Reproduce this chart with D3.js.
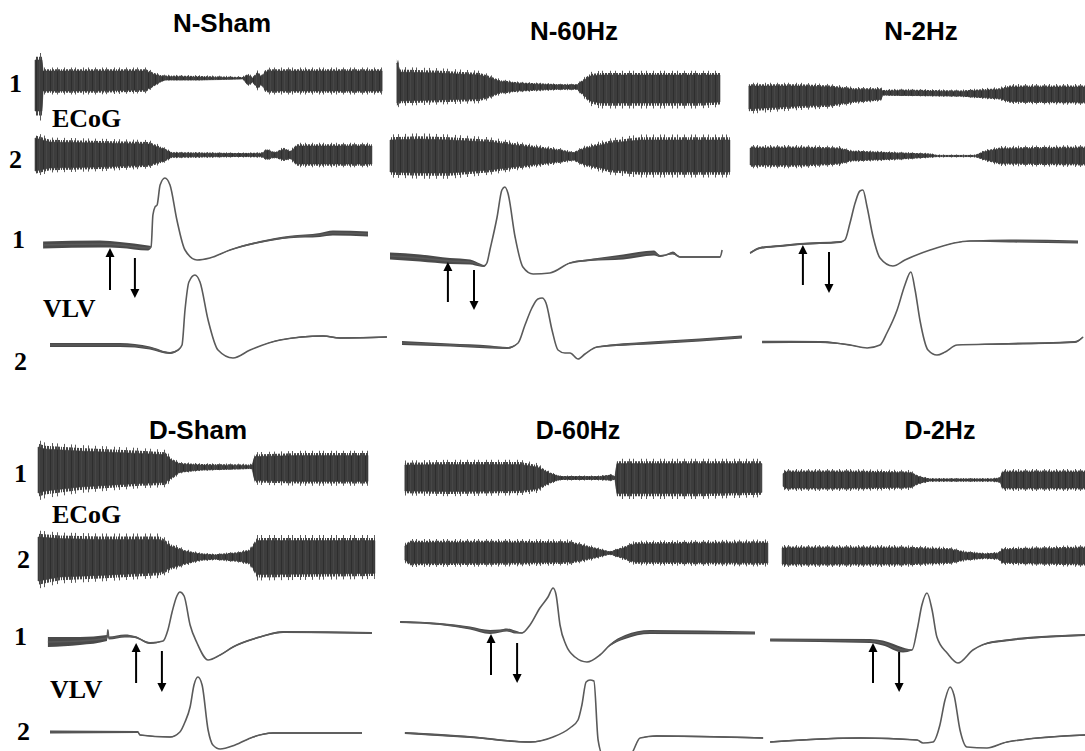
<!DOCTYPE html>
<html>
<head>
<meta charset="utf-8">
<script src="https://cdn.jsdelivr.net/npm/d3@7"></script>
<style>
  body { margin: 0; background: #fff; }
  svg { display: block; }
</style>
</head>
<body>
<svg id="fig" width="1085" height="751"></svg>
<script>
// ---------------------------------------------------------------
// Recordings: time in s (0-120 s window), ECoG envelopes as
// [t, upper amplitude, lower amplitude] (relative units),
// VLV traces as [t, potential, noise band] (relative mV units),
// arrows as [t, tail potential, head potential] on VLV channel 1.
// ---------------------------------------------------------------

const groups = ["N-Sham", "N-60Hz", "N-2Hz", "D-Sham", "D-60Hz", "D-2Hz"];
const channelLabels = ["1", "ECoG", "2", "1", "VLV", "2"];

// ---- N-Sham ----
const ecog1_NSham = [[0,1.05,1.5],[2.3,1.05,1.5],[2.7,0.5,0.5],[20,0.5,0.5],[37,0.5,0.45],[39.3,0.35,0.25],[41.7,0.25,0.05],[43.3,0.22,-0.05],[55,0.2,-0.05],[69.3,0.16,-0.1],[71,0.3,0.2],[72.5,0.15,0.05],[74.3,0.4,0.35],[75.5,0.2,0.15],[76.7,0.45,0.45],[78.3,0.5,0.5],[115.7,0.5,0.5]];
const ecog2_NSham = [[0,0.85,0.8],[5,0.65,0.65],[22,0.6,0.6],[38,0.55,0.5],[42.7,0.3,0.3],[45.7,0.1,0.1],[68,0.07,0.07],[75.7,0.08,0.08],[77,0.25,0.2],[80,0.1,0.1],[83,0.3,0.25],[85,0.15,0.15],[87.3,0.45,0.45],[112.3,0.45,0.45]];
const vlv1_NSham = [[2.7,0,0.14],[21.7,0.02,0.14],[28.3,0,0.12],[37.7,-0.06,0.1],[38.7,-0.04,0.04],[39.3,0.6,0],[40,0.76,0],[40.7,0.8,0],[41.7,1.2,0],[43.3,1.34,0],[45,1.2,0],[47.3,0.5,0],[50,-0.1,0],[54,-0.3,0],[58.3,-0.26,0],[65,-0.1,0.02],[75,0.06,0.04],[85,0.16,0.05],[95,0.2,0.08],[99.3,0.24,0.1],[111,0.22,0.1]];
const vlv2_NSham = [[5,0,0.08],[28.3,0,0.08],[38.3,-0.06,0.06],[45,-0.16,0.04],[47.7,-0.1,0.02],[49,0,0],[50,0.7,0],[51.3,1.26,0],[53.3,1.4,0],[55,1.26,0],[57.7,0.5,0],[61,-0.1,0],[66,-0.26,0],[71.7,-0.1,0],[81.7,0.1,0.02],[96,0.18,0.03],[101.7,0.14,0.03],[117.3,0.16,0.03]];
const arrows_NSham = [[25,-0.9,-0.06],[33.3,-0.26,-1.06]];

// ---- N-60Hz ----
const ecog1_N60 = [[2.3,1.2,0.8],[3.3,0.75,0.7],[16.7,0.7,0.65],[30,0.6,0.6],[33.3,0.45,0.45],[36.7,0.28,0.28],[43.3,0.18,0.18],[56.7,0.1,0.1],[62.3,0.1,0.1],[64.3,0.3,0.35],[66.7,0.55,0.7],[70,0.6,0.8],[103.3,0.6,0.8],[110,0.6,0.75]];
const ecog2_N60 = [[0,0.8,0.8],[10,0.85,0.85],[20,0.8,0.85],[33.3,0.7,0.7],[46.7,0.45,0.45],[56.7,0.28,0.28],[61,0.15,0.18],[65,0.38,0.42],[73.3,0.65,0.7],[83.3,0.8,0.8],[113.3,0.8,0.8]];
const vlv1_N60 = [[0,0.04,0.14],[10,0,0.14],[20,-0.06,0.12],[26.7,-0.08,0.1],[30,-0.14,0.06],[31.3,-0.16,0.04],[32.3,-0.1,0],[33.3,0.16,0],[35.7,0.82,0],[37.3,1.36,0],[38.3,1.42,0],[39.3,1.3,0],[41.7,0.42,0],[44.3,-0.18,0],[47.7,-0.32,0],[53.3,-0.3,0],[60,-0.1,0.02],[66.7,-0.04,0.04],[77.7,0.02,0.1],[88,0.1,0.1],[90,0.04,0.04],[92,0.06,0.02],[94.3,0.1,0.06],[96.7,0.02,0.03],[110,0.02,0.03],[110.7,0.16,0]];
const vlv2_N60 = [[4,0,0.08],[20,-0.04,0.06],[33.3,-0.08,0.06],[39,-0.1,0.04],[42.7,0,0],[45,0.36,0],[47.3,0.7,0],[49.3,0.88,0],[50.7,0.9,0],[52,0.8,0],[54,0.26,0],[56,-0.14,0],[58.3,-0.2,0],[60,-0.2,0],[62.7,-0.32,0],[65,-0.22,0],[69,-0.08,0.02],[86.7,0,0.06],[103.3,0.06,0.06],[117.3,0.12,0.06]];
const arrows_N60 = [[19.3,-0.88,-0.08],[28,-0.24,-1.04]];

// ---- N-2Hz ----
const ecog1_N2 = [[1.3,0.45,0.7],[18.3,0.45,0.55],[28.3,0.4,0.5],[36.7,0.28,0.32],[45.3,0.28,0.22],[46,0.2,0],[51.7,0.22,0.02],[71.7,0.18,0.05],[85,0.28,0.18],[88.3,0.4,0.32],[113.3,0.4,0.36]];
const ecog2_N2 = [[1.7,0.4,0.45],[18.3,0.4,0.45],[31.7,0.36,0.36],[35,0.22,0.22],[51.7,0.14,0.14],[61.7,0.09,0.05],[64,0.03,0.03],[76.7,0.03,0.03],[80,0.22,0.18],[85,0.36,0.36],[113.3,0.4,0.4]];
const vlv1_N2 = [[1.7,-0.16,0.04],[5,-0.06,0.04],[11.7,-0.02,0.04],[18.3,0.02,0.04],[31.7,0.06,0.04],[33.3,0.1,0],[35,0.44,0],[36.7,0.84,0],[38.3,1.08,0],[39.3,1.1,0],[40.7,0.76,0],[42.7,0.16,0],[45,-0.26,0],[49.3,-0.42,0],[53.3,-0.3,0],[61.7,-0.1,0],[75,0.08,0.02],[88.3,0.08,0.06],[111,0.06,0.06]];
const vlv2_N2 = [[5.7,0,0.05],[25,0,0.04],[35,-0.06,0.02],[40.7,-0.12,0],[45,-0.06,0],[47.3,0.18,0],[50.7,0.64,0],[53.3,1.14,0],[55.3,1.4,0],[56.7,1.04,0],[58.3,0.44,0],[61,-0.16,0],[64,-0.26,0],[66.7,-0.2,0],[70.7,-0.06,0],[85,-0.04,0.03],[110,0,0.04],[112.7,0.1,0.02]];
const arrows_N2 = [[19.3,-0.8,0],[28,-0.14,-0.96]];

// ---- D-Sham ----
const ecog1_DSham = [[1,1.1,1.2],[3.3,1.0,1.1],[15,0.9,0.9],[35,0.78,0.72],[43.3,0.72,0.68],[45.7,0.42,0.42],[48.3,0.25,0.15],[55,0.2,0.05],[71,0.18,-0.02],[72.3,0.18,-0.02],[73.3,0.62,0.58],[88.3,0.68,0.62],[111,0.68,0.62]];
const ecog2_DSham = [[1,1.0,1.2],[8.3,0.92,1.0],[21.7,0.88,0.92],[41.7,0.88,0.78],[45,0.55,0.55],[50,0.28,0.32],[55,0.15,0.15],[60,0.1,0.1],[68.3,0.2,0.2],[71.7,0.32,0.32],[74,0.82,0.88],[113.3,0.82,0.82]];
const vlv1_DSham = [[4.3,-0.04,0.2],[15,-0.02,0.16],[24,0.04,0.12],[24.3,0.2,0.04],[24.6,0.04,0.06],[30,0.08,0.06],[33.3,0.06,0.04],[38.3,-0.06,0.04],[42.7,-0.02,0],[44.3,0.2,0],[45.7,0.56,0],[47.3,0.88,0],[48.3,0.96,0],[49.7,0.88,0],[51.7,0.3,0],[54,-0.06,0],[57.7,-0.4,0],[61.7,-0.3,0.02],[66,-0.14,0.03],[75,0.06,0.03],[82.7,0.16,0.04],[112.3,0.14,0.04]];
const vlv2_DSham = [[5,0.02,0.06],[34.3,0.02,0.04],[35,-0.04,0.02],[45,-0.08,0.02],[48.3,0.02,0],[50,0.22,0],[51.7,0.52,0],[53,0.96,0],[54.3,1.12,0],[55.7,0.96,0],[57.7,0.06,0],[59.3,-0.24,0],[61.7,-0.32,0],[66.7,-0.24,0],[72.7,-0.08,0.02],[79.3,0,0.03],[109,0,0.03]];
const arrows_DSham = [[33.7,-0.86,-0.06],[42.3,-0.22,-1.04]];

// ---- D-60Hz ----
const ecog1_D60 = [[2.3,0.65,0.65],[17.3,0.68,0.68],[40.7,0.68,0.64],[46.3,0.55,0.55],[50.7,0.22,0.22],[54,0.07,0.07],[67.3,0.07,0.07],[71.3,0.14,0.1],[72.3,0.05,0.05],[73,0.72,0.78],[100.7,0.72,0.78],[121.3,0.72,0.72]];
const ecog2_D60 = [[2.3,0.35,0.35],[4,0.52,0.52],[34,0.52,0.5],[57.3,0.5,0.45],[64,0.28,0.28],[70.7,0.05,0.05],[75.7,0.28,0.28],[79,0.45,0.45],[123.3,0.5,0.5]];
const vlv1_D60 = [[0.7,0.16,0.04],[14,0.12,0.04],[24,0.04,0.06],[30.7,-0.04,0.08],[34,-0.02,0.06],[36.3,0,0.06],[39,-0.04,0.06],[41.3,-0.06,0.02],[44,0.1,0],[47.3,0.44,0],[50,0.66,0],[51.7,0.84,0],[52.7,0.7,0],[54,0.1,0],[56,-0.3,0],[59,-0.54,0],[63,-0.64,0],[67.3,-0.5,0],[70.7,-0.3,0.04],[75.7,-0.14,0.08],[84,-0.04,0.08],[119,-0.06,0.06]];
const vlv2_D60 = [[2.3,0.04,0.04],[24,-0.04,0.04],[44,-0.14,0.03],[51.7,-0.04,0],[57.3,0.14,0],[60,0.3,0],[61.3,0.6,0],[62.7,1.06,0],[64,1.1,0],[65.3,1.08,0],[66.7,-0.1,0],[68.3,-0.4,0],[77.3,-0.4,0],[80.7,-0.06,0],[86.3,-0.02,0.03],[121.7,-0.06,0.03]];
const arrows_D60 = [[31,-0.9,-0.08],[39.7,-0.26,-1.06]];

// ---- D-2Hz ----
const ecog1_D2 = [[6,0.32,0.32],[7,0.4,0.4],[28.3,0.4,0.4],[48.3,0.36,0.36],[51.7,0.14,0.14],[55,0.05,0.05],[76,0.05,0.05],[78.3,0.1,0.1],[79.3,0.4,0.4],[106.7,0.4,0.4]];
const ecog2_D2 = [[5.7,0.4,0.4],[45,0.4,0.4],[61.7,0.32,0.32],[66.7,0.18,0.18],[73.3,0.1,0.1],[77.7,0.14,0.14],[79.3,0.32,0.32],[106.7,0.4,0.4]];
const vlv1_D2 = [[1.7,0,0.06],[35,-0.02,0.08],[39.3,-0.06,0.1],[46,-0.2,0.1],[49,-0.2,0.02],[50.7,0.2,0],[52.3,0.7,0],[54,0.94,0],[55.7,0.6,0],[57.3,0.06,0],[60.7,-0.26,0],[64.3,-0.46,0],[69.3,-0.2,0],[76,-0.04,0.04],[106.7,0.1,0.04]];
const vlv2_D2 = [[1.7,-0.04,0.03],[31.7,0.04,0.03],[50.7,0,0.02],[52.7,-0.06,0],[56,-0.04,0],[58.3,0.3,0],[60,0.8,0],[61.7,1.06,0],[63,0.9,0],[65,0.2,0],[67.3,-0.14,0],[74,-0.16,0],[80.7,-0.04,0.02],[106.7,0.1,0.03]];
const arrows_D2 = [[36,-0.86,-0.06],[44.7,-0.24,-1.04]];

// ---------------------------------------------------------------
// Layout: panel origins, titles and baseline of each trace
// ---------------------------------------------------------------
const layout = {
  "N-Sham": { x0: 35,  title: [222, 32],  size: 26, e1: 81,  e2: 155, v1: 245, v2: 345 },
  "N-60Hz": { x0: 390, title: [574, 40],  size: 26, e1: 87,  e2: 156, v1: 258, v2: 343 },
  "N-2Hz":  { x0: 745, title: [921, 40],  size: 26, e1: 95,  e2: 156, v1: 245, v2: 342 },
  "D-Sham": { x0: 35,  title: [198, 439], size: 26, e1: 469, e2: 557, v1: 640, v2: 733 },
  "D-60Hz": { x0: 398, title: [578, 439], size: 25, e1: 478, e2: 553, v1: 630, v2: 735 },
  "D-2Hz":  { x0: 765, title: [940, 439], size: 25, e1: 480, e2: 556, v1: 640, v2: 740 }
};

// Row label positions (x, baseline) for "1, ECoG, 2, 1, VLV, 2"
const rowLabelPos = [
  [[9, 92], [52, 127], [9, 168], [12, 248], [43, 317], [14, 370]],
  [[14, 482], [52, 523], [17, 568], [14, 645], [50, 698], [17, 740]]
];

const panels = [
  { name: groups[0], ecog1: ecog1_NSham, ecog2: ecog2_NSham, vlv1: vlv1_NSham, vlv2: vlv2_NSham, arrows: arrows_NSham },
  { name: groups[1], ecog1: ecog1_N60,   ecog2: ecog2_N60,   vlv1: vlv1_N60,   vlv2: vlv2_N60,   arrows: arrows_N60 },
  { name: groups[2], ecog1: ecog1_N2,    ecog2: ecog2_N2,    vlv1: vlv1_N2,    vlv2: vlv2_N2,    arrows: arrows_N2 },
  { name: groups[3], ecog1: ecog1_DSham, ecog2: ecog2_DSham, vlv1: vlv1_DSham, vlv2: vlv2_DSham, arrows: arrows_DSham },
  { name: groups[4], ecog1: ecog1_D60,   ecog2: ecog2_D60,   vlv1: vlv1_D60,   vlv2: vlv2_D60,   arrows: arrows_D60 },
  { name: groups[5], ecog1: ecog1_D2,    ecog2: ecog2_D2,    vlv1: vlv1_D2,    vlv2: vlv2_D2,    arrows: arrows_D2 }
];

const PX_PER_S = 3;     // horizontal resolution
const ECOG_PX = 20;     // px per ECoG amplitude unit
const VLV_PX = 50;      // px per VLV unit

const svg = d3.select("#fig");
const defs = svg.append("defs");

// core texture of the compressed ECoG trace: dense vertical striation
const core = defs.append("pattern")
  .attr("id", "ecogCore").attr("patternUnits", "userSpaceOnUse")
  .attr("width", 7).attr("height", 8);
core.append("rect").attr("width", 7).attr("height", 8).attr("fill", "#3d3d3d");
core.append("rect").attr("x", 1).attr("width", 1).attr("height", 8).attr("fill", "#2e2e2e");
core.append("rect").attr("x", 4).attr("width", 1).attr("height", 8).attr("fill", "#474747");

// ragged fringe: single sweeps that overshoot the envelope
function fringePattern(id, period, xs, colour) {
  const pt = defs.append("pattern")
    .attr("id", id).attr("patternUnits", "userSpaceOnUse")
    .attr("width", period).attr("height", 8);
  xs.forEach(px => pt.append("rect").attr("x", px).attr("width", 1).attr("height", 8).attr("fill", colour));
}
fringePattern("fringeA", 11, [0, 1, 3, 4, 6, 8, 9], "#454545");
fringePattern("fringeB", 31, [2, 9, 13, 21, 26], "#5a5a5a");

const serif = "'Liberation Serif', 'Times New Roman', serif";
const sans = "'Liberation Sans', Arial, sans-serif";

panels.forEach(p => {
  const L = layout[p.name];
  const x = d3.scaleLinear().domain([0, 120]).range([L.x0, L.x0 + 120 * PX_PER_S]);
  const g = svg.append("g").attr("class", "panel");

  // title
  g.append("text")
    .attr("x", L.title[0]).attr("y", L.title[1])
    .attr("text-anchor", "middle")
    .attr("font-family", sans).attr("font-weight", "bold")
    .attr("font-size", L.size)
    .text(p.name);

  // ECoG channels (envelope of the compressed trace)
  [[p.ecog1, L.e1], [p.ecog2, L.e2]].forEach(([env, base]) => {
    const y = d3.scaleLinear().domain([-1, 1]).range([base + ECOG_PX, base - ECOG_PX]);
    const band = (k, pad) => d3.area()
      .x(d => x(d[0]))
      .y0(d => y(-(d[2] * k + pad)))
      .y1(d => y(d[1] * k + pad));
    g.append("path").datum(env).attr("d", band(1.3, 0.03)).attr("fill", "url(#fringeB)");
    g.append("path").datum(env).attr("d", band(1.14, 0.02)).attr("fill", "url(#fringeA)");
    g.append("path").datum(env).attr("d", band(1, 0))
      .attr("fill", "url(#ecogCore)")
      .attr("stroke", "#3c3c3c")
      .attr("stroke-width", 0.6);
  });

  // VLV channels
  [[p.vlv1, L.v1], [p.vlv2, L.v2]].forEach(([trace, base]) => {
    const y = d3.scaleLinear().domain([-1, 1]).range([base + VLV_PX, base - VLV_PX]);
    g.append("path")
      .datum(trace)
      .attr("d", d3.area()
        .curve(d3.curveMonotoneX)
        .x(d => x(d[0]))
        .y0(d => y(d[1] - d[2] / 2))
        .y1(d => y(d[1] + d[2] / 2)))
      .attr("fill", "#4a4a4a");
    g.append("path")
      .datum(trace)
      .attr("d", d3.line()
        .curve(d3.curveMonotoneX)
        .x(d => x(d[0]))
        .y(d => y(d[1])))
      .attr("fill", "none")
      .attr("stroke", "#5a5a5a")
      .attr("stroke-width", 1.6)
      .attr("stroke-linejoin", "round");

    if (trace === p.vlv1) {
      p.arrows.forEach(([t, tail, head]) => {
        const ax = x(t), y0 = y(tail), y1 = y(head);
        const dir = y1 < y0 ? -1 : 1;
        g.append("line")
          .attr("x1", ax).attr("x2", ax)
          .attr("y1", y0).attr("y2", y1 - dir * 7)
          .attr("stroke", "#000").attr("stroke-width", 2);
        g.append("path")
          .attr("d", `M${ax},${y1} L${ax - 4.5},${y1 - dir * 9} L${ax + 4.5},${y1 - dir * 9} Z`)
          .attr("fill", "#000");
      });
    }
  });
});

// channel labels for each row
rowLabelPos.forEach(row => {
  row.forEach((pos, i) => {
    svg.append("text")
      .attr("x", pos[0]).attr("y", pos[1])
      .attr("font-family", serif).attr("font-weight", "bold")
      .attr("font-size", 26)
      .text(channelLabels[i]);
  });
});
</script>
</body>
</html>
